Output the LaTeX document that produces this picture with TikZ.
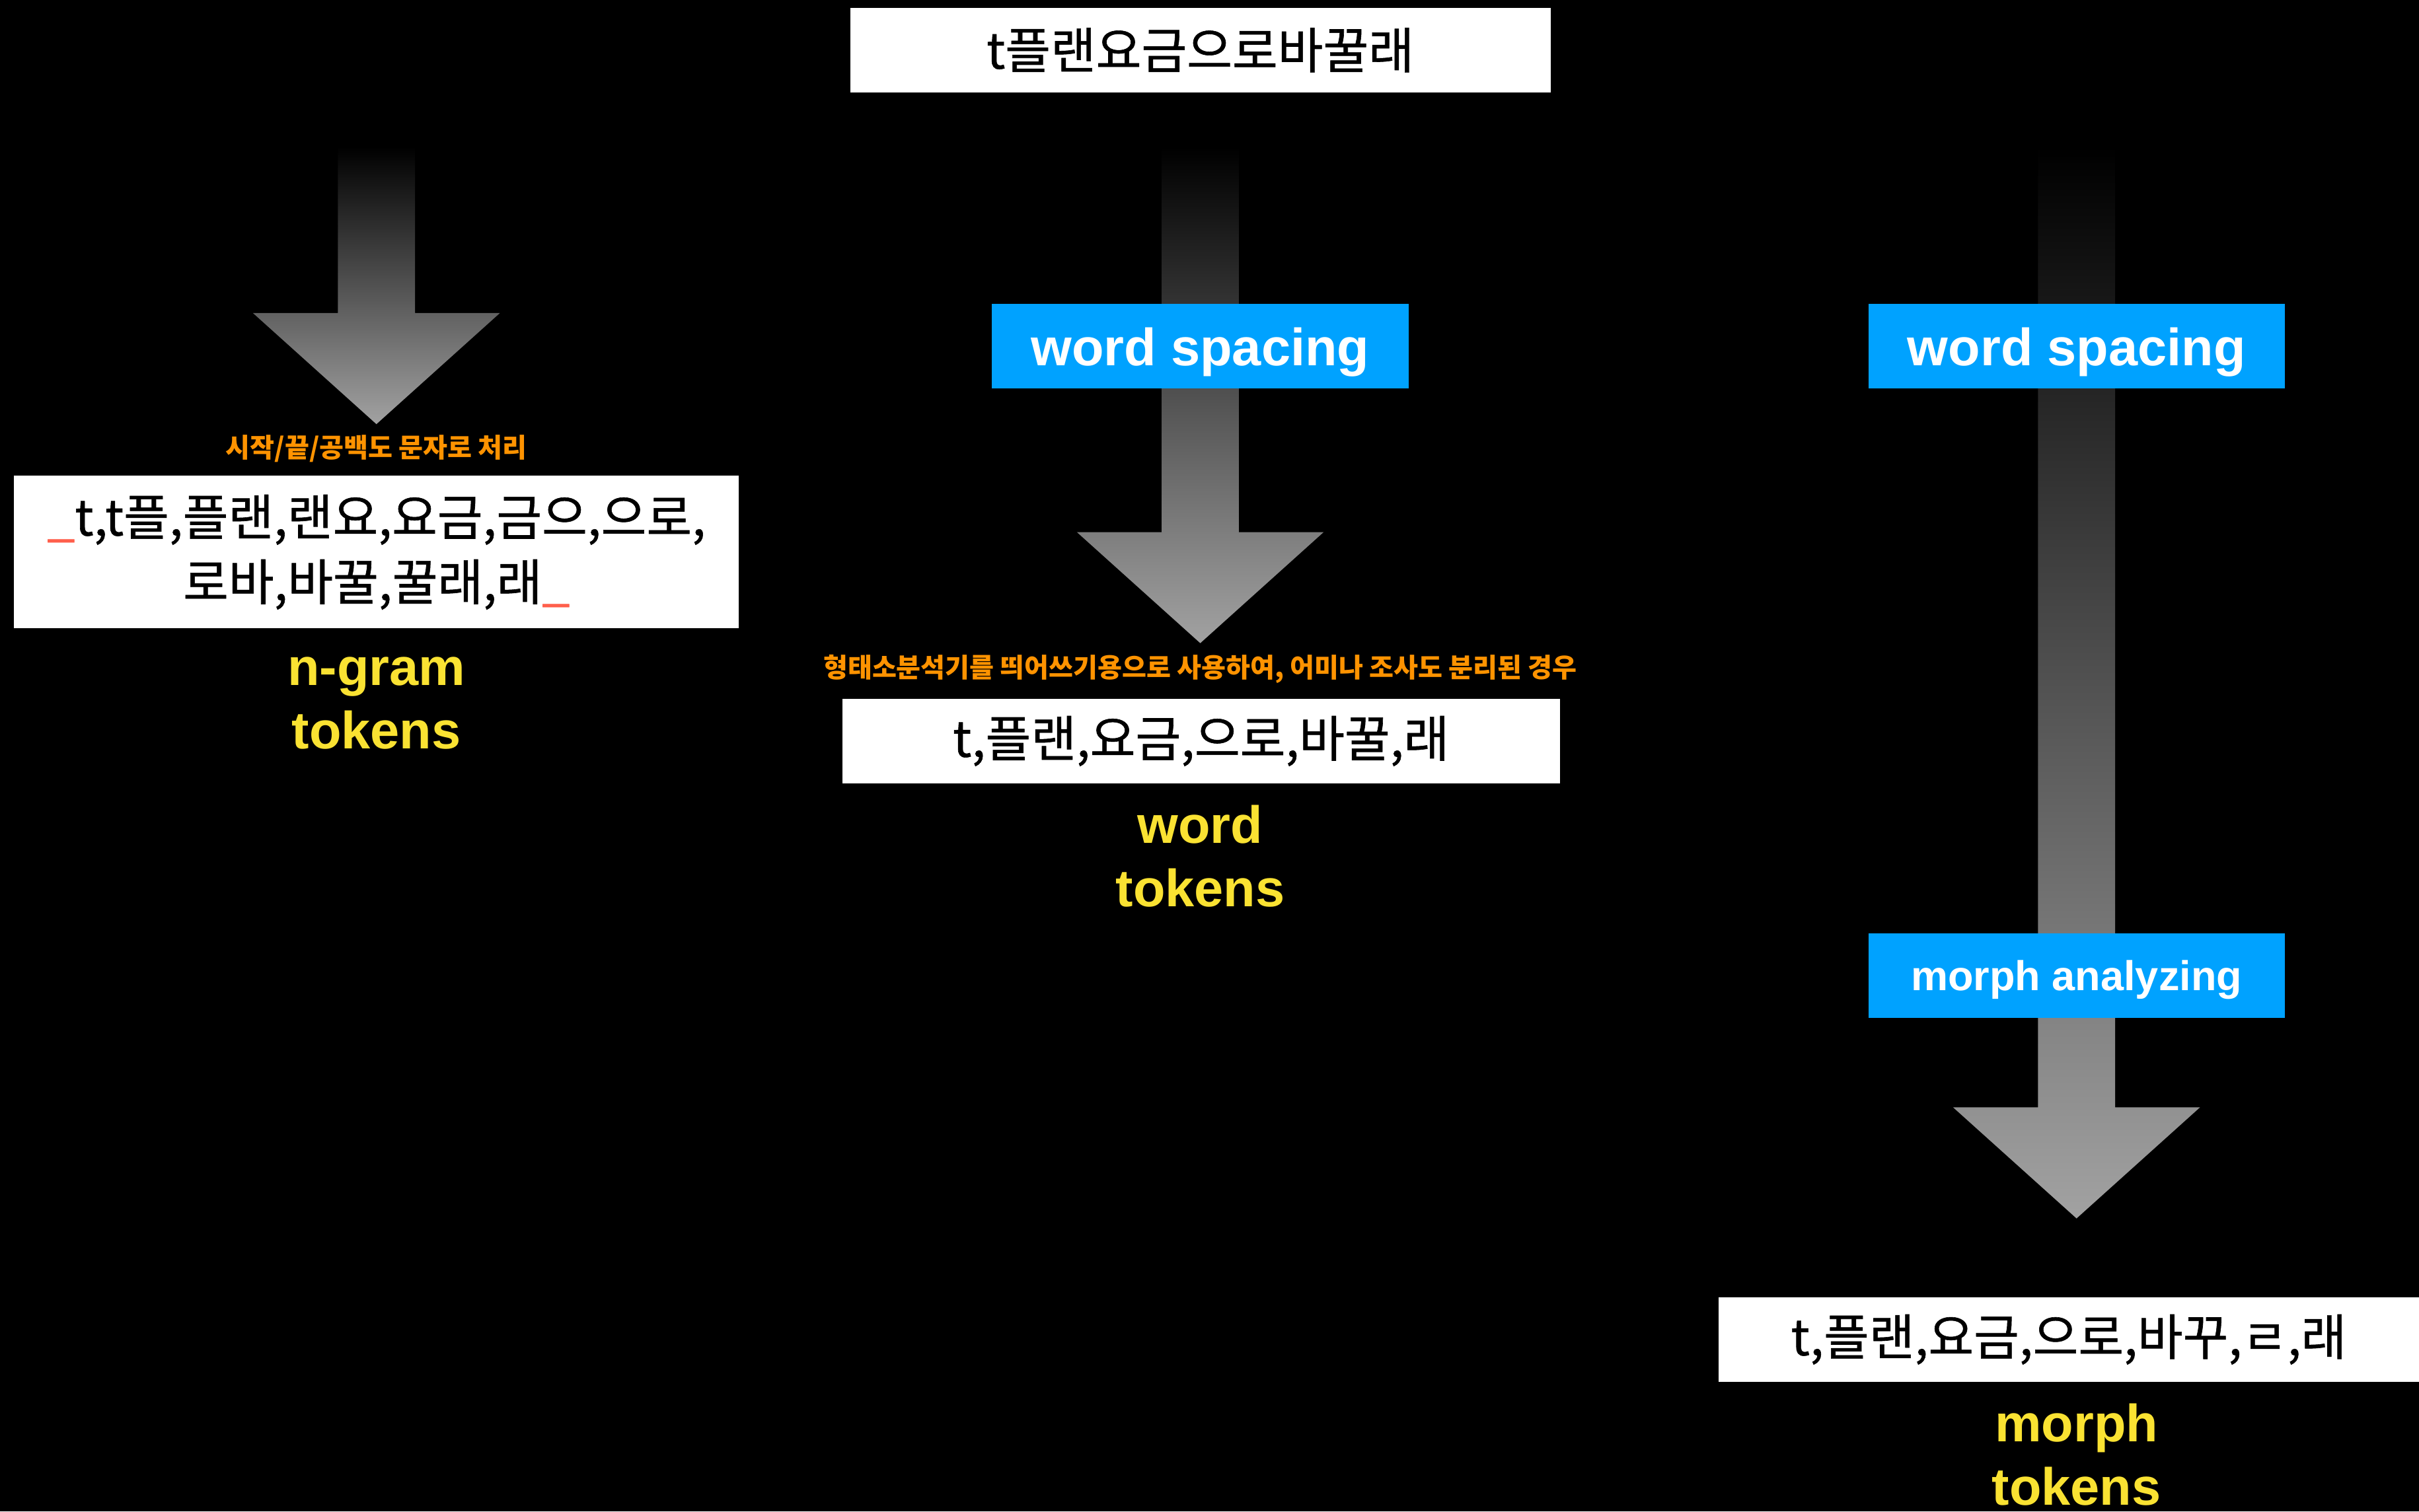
\documentclass[tikz,border=0pt]{standalone}
\usepackage{fontspec}
\setmainfont{Liberation Sans}
\newfontfamily\kr{Noto Sans CJK KR}
\newfontfamily\krm[FakeBold=0.8]{Noto Sans CJK KR}
\definecolor{sky}{RGB}{0,162,255}
\definecolor{orng}{RGB}{255,147,0}
\definecolor{yel}{RGB}{250,226,50}
\definecolor{redu}{RGB}{255,95,75}
\definecolor{arrowgray}{RGB}{162,162,162}
\newcommand\lowerby[2]{\raisebox{-#1}[\height][\depth]{#2}}
\tikzset{
  whitebox/.style={fill=white, text=black, inner sep=0pt, align=center,
    font=\krm\fontsize{32}{42}\selectfont},
  bluebox/.style={fill=sky, text=white, inner sep=0pt, minimum width=270pt,
    minimum height=55pt, font=\bfseries\fontsize{34}{40}\selectfont},
  bluesmall/.style={bluebox, font=\bfseries\fontsize{27}{32}\selectfont},
  ylabel/.style={text=yel, inner sep=0pt, align=center,
    font=\bfseries\fontsize{34}{41}\selectfont},
  olabel/.style={text=orng, inner sep=0pt, font=\kr\bfseries\fontsize{17.2}{20}\selectfont},
  fatarrow/.style={top color=black, bottom color=arrowgray}
}
\newcommand\fatdown[3]{% #1 = centre x, #2 = top y, #3 = tip y
  \shade[fatarrow] ({#1-25},#2) -- ({#1+25},#2) -- ({#1+25},{#3-72}) -- ({#1+80},{#3-72})
    -- (#1,#3) -- ({#1-80},{#3-72}) -- ({#1-25},{#3-72}) -- cycle;}
\begin{document}
\begin{tikzpicture}[x=1pt,y=-1pt]
\fill[black] (0,0) rectangle (1568,980);
\useasboundingbox (0,0) rectangle (1568,980);

% source sentence
\node[whitebox, minimum width=454pt, minimum height=55pt] (src) at (778,32.5) {t플랜요금으로바꿀래};

% arrows (drawn first, behind boxes)
\coordinate (aL) at (244,95);  \coordinate (tL) at (244,275);
\coordinate (aM) at (778,95);  \coordinate (tM) at (778,417);
\coordinate (aR) at (1346,95); \coordinate (tR) at (1346,790);
\fatdown{244}{95}{275}
\fatdown{778}{95}{417}
\fatdown{1346}{95}{790}

% process boxes
\node[bluebox] (wsM) at (778,224.5) {\lowerby{4pt}{word spacing}};
\node[bluebox] (wsR) at (1346,224.5) {\lowerby{4pt}{word spacing}};
\node[bluesmall] (ma) at (1346,632.5) {\lowerby{3pt}{morph analyzing}};

% left column: n-gram
\node[olabel] (noteL) at (244,291) {시작/끝/공백도 문자로 처리};
\node[whitebox, minimum width=470pt, minimum height=99pt] (ngram) at (244,358)
  {\textcolor{redu}{\_}t,t플,플랜,랜요,요금,금으,으로,\\로바,바꿀,꿀래,래\textcolor{redu}{\_}};
\node[ylabel] (ngl) at (244,456) {n-gram\\tokens};

% middle column: word
\node[olabel] (noteM) at (778,434) {형태소분석기를 띄어쓰기용으로 사용하여, 어미나 조사도 분리된 경우};
\node[whitebox, minimum width=465pt, minimum height=55pt] (word) at (778.5,480.5) {t,플랜,요금,으로,바꿀,래};
\node[ylabel] (wdl) at (778,555) {word\\tokens};

% right column: morph
\node[whitebox, minimum width=454pt, minimum height=55pt] (morph) at (1341,868.5) {t,플랜,요금,으로,바꾸,ㄹ,래};
\node[ylabel] (mpl) at (1346,943) {morph\\tokens};
\end{tikzpicture}
\end{document}
